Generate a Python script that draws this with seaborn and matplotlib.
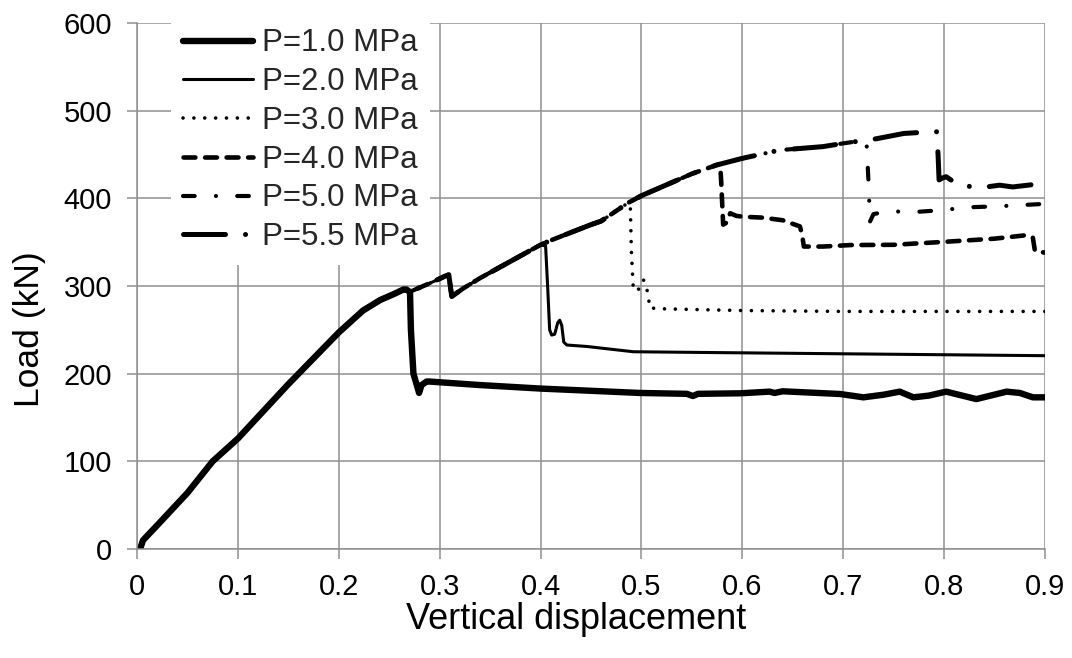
import numpy as np
import pandas as pd
import matplotlib
matplotlib.use("Agg")
import matplotlib.pyplot as plt
import seaborn as sns

# Shared loading path (elastic branch) up to the first peak
base_x = [0.003, 0.006, 0.02, 0.05, 0.075, 0.10, 0.15, 0.20, 0.224, 0.241, 0.255, 0.264]
base_y = [0, 10, 27, 64, 100, 126, 188, 247, 272, 284, 291, 296]

# Path followed by the higher-pressure tests after P=1.0 MPa fails
mid_x = [0.2706, 0.29, 0.305, 0.309, 0.312, 0.323, 0.34, 0.37, 0.40]
mid_y = [293.5, 303, 311, 313, 288, 297, 309, 328, 347]

upper_x = [0.41, 0.45, 0.46, 0.487]
upper_y = [352, 370, 374, 395]

top_x = [0.50, 0.53, 0.55, 0.5745]
top_y = [403, 418, 428, 438]

crest_x = [0.60, 0.637, 0.68, 0.70, 0.723]
crest_y = [445.6, 455, 459, 462.7, 466.5]

peak_x = [0.733, 0.76, 0.789, 0.7925]
peak_y = [468, 474, 476, 476]

# Post-peak branches of each test
p10_x = [0.267, 0.2706, 0.2715, 0.274, 0.2796, 0.282, 0.287, 0.29, 0.34, 0.40, 0.4985,
         0.545, 0.551, 0.556, 0.598, 0.627, 0.632, 0.64, 0.697, 0.72, 0.74, 0.756,
         0.7695, 0.785, 0.802, 0.832, 0.862, 0.875, 0.888, 0.90]
p10_y = [296, 293, 250, 200, 178, 187, 191, 191, 187, 183, 178,
         177, 174.5, 177, 177.6, 179.5, 178, 179.9, 176.8, 173, 176, 179.5,
         173, 175, 179.5, 171, 179.5, 178, 173, 173]

p20_x = [0.405, 0.407, 0.409, 0.411, 0.414, 0.417, 0.419, 0.421, 0.423, 0.426,
         0.446, 0.492, 0.578, 0.90]
p20_y = [345.6, 300, 250, 244, 245, 258, 261, 255, 236, 232.7,
         231, 225, 224, 220.5]

p30_x = [0.489, 0.490, 0.492, 0.497, 0.502, 0.505, 0.507, 0.508, 0.52, 0.60, 0.70, 0.80, 0.90]
p30_y = [390, 340, 295, 296, 307, 298, 288, 275, 274, 272, 271, 271, 271]

p40_x = [0.578, 0.579, 0.581, 0.584, 0.588, 0.594, 0.601, 0.62, 0.64, 0.657, 0.659,
         0.661, 0.68, 0.707, 0.75, 0.802, 0.85, 0.882, 0.888, 0.89, 0.90]
p40_y = [439, 420, 370, 372, 383, 380, 379, 378, 375, 368, 360,
         345, 345, 346.7, 347, 350.5, 354, 358, 355, 340, 338]

p50_x = [0.725, 0.7265, 0.73, 0.743, 0.776, 0.80, 0.822, 0.855, 0.895, 0.90]
p50_y = [420, 373.4, 382, 385, 384.8, 386.7, 389.7, 391, 393.4, 394]

p55_x = [0.794, 0.795, 0.798, 0.802, 0.808, 0.816, 0.842, 0.855, 0.868, 0.898, 0.90]
p55_y = [450, 421, 423, 424.7, 420, 414, 413, 415, 413, 417, 417]

labels = ["P=1.0 MPa", "P=2.0 MPa", "P=3.0 MPa", "P=4.0 MPa", "P=5.0 MPa", "P=5.5 MPa"]

series = {
    labels[0]: (base_x + p10_x, base_y + p10_y),
    labels[1]: (base_x + mid_x + p20_x, base_y + mid_y + p20_y),
    labels[2]: (base_x + mid_x + upper_x + p30_x, base_y + mid_y + upper_y + p30_y),
    labels[3]: (base_x + mid_x + upper_x + top_x + p40_x,
                base_y + mid_y + upper_y + top_y + p40_y),
    labels[4]: (base_x + mid_x + upper_x + top_x + crest_x + p50_x,
                base_y + mid_y + upper_y + top_y + crest_y + p50_y),
    labels[5]: (base_x + mid_x + upper_x + top_x + crest_x + peak_x + p55_x,
                base_y + mid_y + upper_y + top_y + crest_y + peak_y + p55_y),
}

# line width (pt) and dash pattern (in units of line width); None = solid
styles = {
    labels[0]: (4.6, None),
    labels[1]: (2.2, None),
    labels[2]: (2.6, (0.01, 3.0)),
    labels[3]: (3.3, (2.6, 2.1)),
    labels[4]: (3.0, (2.8, 5.1, 0.01, 5.1)),
    labels[5]: (3.6, (8.4, 4.0, 0.01, 4.0)),
}

sns.set_theme(style="whitegrid")
plt.rcParams["font.family"] = ["Liberation Sans", "DejaVu Sans"]

grid_c = "#8f8f8f"
fig = plt.figure(figsize=(10.72, 6.58), dpi=100)
ax = fig.add_axes([137 / 1072, 1 - 549 / 658, 908 / 1072, 526 / 658])

for lab in reversed(labels):
    xs, ys = series[lab]
    df = pd.DataFrame({"d": xs, "load": ys})
    lw, dash = styles[lab]
    sns.lineplot(data=df, x="d", y="load", ax=ax, sort=False, estimator=None,
                 color="black", linewidth=lw, label=lab)
    line = ax.lines[-1]
    line.set_solid_capstyle("round")
    line.set_solid_joinstyle("round")
    line.set_dash_capstyle("round")
    if dash is not None:
        line.set_dashes(dash)

line_map = {l.get_label(): l for l in ax.lines}
handles = [line_map[lab] for lab in labels]

ax.set_xlim(0, 0.9)
ax.set_ylim(0, 600)
xt = [0, 0.1, 0.2, 0.3, 0.4, 0.5, 0.6, 0.7, 0.8, 0.9]
ax.set_xticks(xt)
ax.set_xticklabels(["0"] + [f"{v:.1f}" for v in xt[1:]])
ax.set_yticks([0, 100, 200, 300, 400, 500, 600])

ax.grid(True, color=grid_c, linewidth=1.1)
ax.set_axisbelow(True)
for s in ["top", "right"]:
    ax.spines[s].set_visible(False)
for s in ["left", "bottom"]:
    ax.spines[s].set_color(grid_c)
    ax.spines[s].set_linewidth(1.1)
ax.set_facecolor("white")

ax.tick_params(axis="both", which="major", direction="out", length=7, width=1.1,
               color=grid_c, labelsize=21, labelcolor="black", bottom=True, left=True)
ax.tick_params(axis="x", pad=10)
ax.tick_params(axis="y", pad=11)

ax.set_xlabel("Vertical displacement", fontsize=26, color="black")
ax.xaxis.label.set_va("center")
ax.xaxis.set_label_coords(0.4835, -0.134)
ax.set_ylabel("Load (kN)", fontsize=25.5, color="black")
ax.yaxis.label.set_va("center")
ax.yaxis.set_label_coords(-0.118, 0.418)

leg = ax.legend(handles, labels, loc="upper left", bbox_to_anchor=(0.037, 1.0134),
                borderaxespad=0, fontsize=22.5, handlelength=2.24, handletextpad=0.29,
                labelspacing=0.28, frameon=True, fancybox=False, borderpad=0.4)
leg.get_frame().set_facecolor("white")
leg.get_frame().set_edgecolor("none")
leg.get_frame().set_alpha(1)

fig.savefig("out.png", dpi=100)
